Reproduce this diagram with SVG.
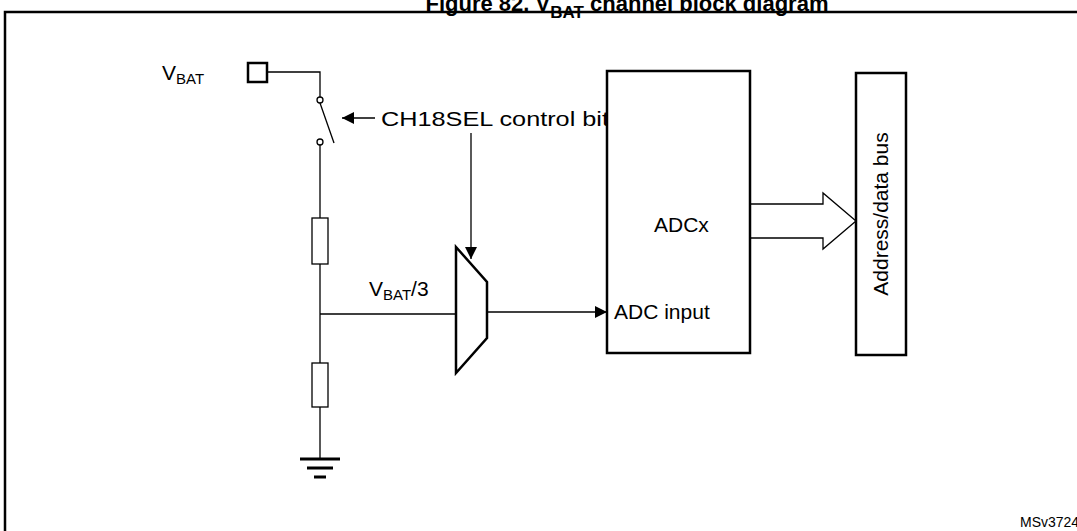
<svg xmlns="http://www.w3.org/2000/svg" width="1077" height="531" viewBox="0 0 1077 531">
<style>
text{font-family:"Liberation Sans",Arial,sans-serif;fill:#000}
.w{fill:none;stroke:#000;stroke-width:1.3}
.b{fill:#fff;stroke:#000;stroke-width:2.5}
.r{fill:#fff;stroke:#000;stroke-width:1.3}
</style>
<defs><marker id="a" viewBox="0 0 10 10" refX="10" refY="5" markerWidth="12" markerHeight="12" markerUnits="userSpaceOnUse" orient="auto"><path d="M0,0L10,5L0,10z"/></marker></defs>
<text x="627" y="11" font-size="22" font-weight="bold" text-anchor="middle">Figure 82. V<tspan font-size="17" dy="7">BAT</tspan><tspan dy="-7"> channel block diagram</tspan></text>
<rect x="5" y="12" width="1090" height="540" fill="none" stroke="#000" stroke-width="2.5"/>
<g id="connectors">
<path class="w" d="M267,72H320V97M320,145V218M320,264V363M320,407V459M320,314H456"/>
<path class="w" d="M320,103L334,143"/>
<path class="w" d="M375,118H342" marker-end="url(#a)"/>
<path class="w" d="M471,133V259" marker-end="url(#a)"/>
<path class="w" d="M487,312H607" marker-end="url(#a)"/>
<path class="w" d="M750,204H823V193L856,221L823,249V238H750"/>
</g>
<g id="vbat"><rect x="248" y="63" width="19" height="19" fill="#fff" stroke="#000" stroke-width="2.5"/><text x="162" y="80" font-size="21">V<tspan font-size="15" dy="4">BAT</tspan></text></g>
<g id="switch"><circle cx="320" cy="100" r="3" class="r"/><circle cx="320" cy="142" r="3" class="r"/></g>
<g id="ctrl"><text x="381" y="126" font-size="21" textLength="228" lengthAdjust="spacingAndGlyphs">CH18SEL control bit</text></g>
<g id="r1"><rect x="312" y="218" width="16" height="46" class="r"/></g>
<g id="r2"><rect x="312" y="363" width="16" height="44" class="r"/></g>
<g id="gnd"><path d="M300,459H340M307,468H333M314,477H326" stroke="#000" stroke-width="3"/></g>
<g id="vbat3"><text x="369" y="296" font-size="21">V<tspan font-size="15" dy="4">BAT</tspan><tspan dy="-4">/3</tspan></text></g>
<g id="mux"><path d="M456,247L487,282V338L456,373Z" class="b" stroke-width="2"/></g>
<g id="adc"><rect x="607" y="71" width="143" height="282" class="b"/><text x="654" y="232" font-size="21">ADCx</text><text x="614" y="319" font-size="21">ADC input</text></g>
<g id="bus"><rect x="856" y="73" width="50" height="282" class="b"/><text transform="translate(888,214) rotate(-90)" font-size="21" text-anchor="middle">Address/data bus</text></g>
<text x="1020" y="527" font-size="14">MSv37245V1</text>
</svg>
